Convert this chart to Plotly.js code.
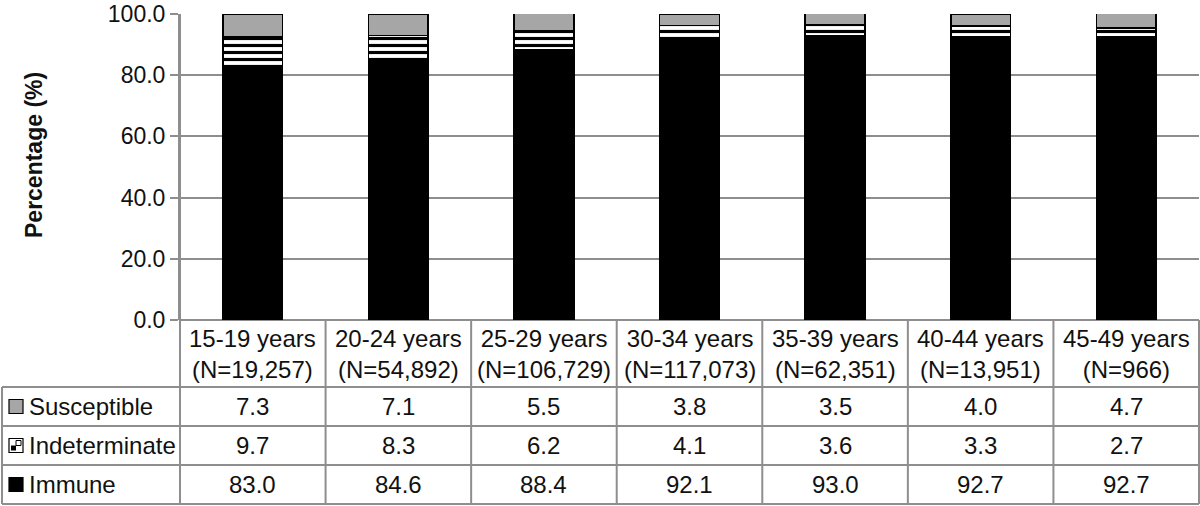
<!DOCTYPE html>
<html>
<head>
<meta charset="utf-8">
<script src="https://cdn.plot.ly/plotly-3.0.1.min.js"></script>
<style>
html,body{margin:0;padding:0;background:#fff;}
#chart{width:1200px;height:506px;}
</style>
</head>
<body>
<div id="chart"></div>
<script>
const ageGroups = ['15-19 years','20-24 years','25-29 years','30-34 years','35-39 years','40-44 years','45-49 years'];
const sampleSizes = ['19,257','54,892','106,729','117,073','62,351','13,951','966'];
const susceptible = [7.3,7.1,5.5,3.8,3.5,4.0,4.7];
const indeterminate = [9.7,8.3,6.2,4.1,3.6,3.3,2.7];
const immune = [83.0,84.6,88.4,92.1,93.0,92.7,92.7];
const seriesNames = ['Susceptible','Indeterminate','Immune'];
const yTicks = [0,20,40,60,80,100];

const W = 1200, H = 506;
const L = 180, R = 1199, T = 14, B = 320;
const pw = R - L, ph = B - T;
const px = v => (v - L) / pw;          // pixel x -> paper
const py = v => (B - v) / ph;          // pixel y -> paper

const FONT = 'Liberation Sans, Arial, Helvetica, sans-serif';
const GRID = '#8e8e8e';
const GRAY = '#a6a6a6';

const cats = ageGroups.map((a, i) => a + ' (N=' + sampleSizes[i] + ')');

const traces = [
  {type:'bar', name:'Immune', x:cats, y:immune,
   marker:{color:'#000000', line:{color:'#000', width:1.5}}},
  {type:'bar', name:'Indeterminate', x:cats, y:indeterminate,
   marker:{color:'#ffffff', line:{color:'#000', width:1.5},
     pattern:{shape:'-', fgcolor:'#000', bgcolor:'#fff', size:7, solidity:0.45}}},
  {type:'bar', name:'Susceptible', x:cats, y:susceptible,
   marker:{color:GRAY, line:{color:'#000', width:1.5}}}
];

const shapes = [];
const annotations = [];
const line = (x0,y0,x1,y1) => shapes.push({type:'line', xref:'paper', yref:'paper',
  x0:x0, y0:y0, x1:x1, y1:y1, line:{color:GRID, width:2}});

// row lines
const rowY = [387, 426, 465, 504];
rowY.forEach(y => line(px(2), py(y), px(R), py(y)));
// left border of legend column
line(px(2), py(387), px(2), py(504));
// axis line extension
line(0, py(T), 0, py(504));
// category boundaries
const n = ageGroups.length;
for (let i = 1; i <= n; i++) line(i / n, py(B), i / n, py(504));

const txtFont = {family:FONT, size:24, color:'#111'};

// header labels
ageGroups.forEach((a, i) => {
  annotations.push({xref:'x', yref:'paper', x:cats[i], y:py(353.5),
    xanchor:'center', yanchor:'middle',
    text: a + '<br>(N=' + sampleSizes[i] + ')', showarrow:false,
    font:txtFont, align:'center'});
});

// value rows
const rows = [susceptible, indeterminate, immune];
const rowCenters = [406.5, 445.5, 484.5];
rows.forEach((vals, r) => {
  vals.forEach((v, i) => {
    annotations.push({xref:'x', yref:'paper', x:cats[i], y:py(rowCenters[r]),
      xanchor:'center', yanchor:'middle',
      text: v.toFixed(1), showarrow:false, font:txtFont});
  });
  annotations.push({xref:'paper', yref:'paper', x:px(27), y:py(rowCenters[r]),
    xanchor:'left', yanchor:'middle', text: seriesNames[r], showarrow:false,
    font:txtFont});
});

// legend keys
const keyColors = [GRAY, '#ffffff', '#000000'];
rowCenters.forEach((c, r) => {
  shapes.push({type:'rect', xref:'paper', yref:'paper',
    x0:px(9), x1:px(23), y0:py(c + 7), y1:py(c - 7),
    fillcolor:keyColors[r], line:{color:'#000', width:1.2}});
});
// pattern hint in indeterminate key
shapes.push({type:'rect', xref:'paper', yref:'paper',
  x0:px(11), x1:px(16), y0:py(rowCenters[1] + 5), y1:py(rowCenters[1]),
  fillcolor:'#000', line:{width:0}});
shapes.push({type:'rect', xref:'paper', yref:'paper',
  x0:px(16), x1:px(21), y0:py(rowCenters[1]), y1:py(rowCenters[1] - 5),
  fillcolor:'#fff', line:{color:'#000', width:1}});

// y-axis title
annotations.push({xref:'paper', yref:'paper', x:px(34), y:py(155),
  xanchor:'center', yanchor:'middle',
  text:'<b>Percentage (%)</b>', textangle:-90, showarrow:false,
  font:{family:FONT, size:23, color:'#111'}});

const layout = {
  width:W, height:H,
  margin:{l:L, r:W - R, t:T, b:H - B, pad:0},
  paper_bgcolor:'#fff', plot_bgcolor:'#fff',
  barmode:'stack', bargap:0.59,
  showlegend:false,
  font:{family:FONT, color:'#111'},
  xaxis:{type:'category', range:[-0.5, n - 0.5], showticklabels:false,
    showgrid:false, zeroline:false, showline:false, ticks:''},
  yaxis:{range:[0,100], tickvals:yTicks, ticktext:yTicks.map(v => v.toFixed(1)),
    ticks:'outside', ticklen:8, tickwidth:2, tickcolor:GRID,
    showgrid:true, gridcolor:GRID, gridwidth:2,
    zeroline:true, zerolinecolor:GRID, zerolinewidth:2,
    showline:true, linecolor:GRID, linewidth:2,
    tickfont:{family:FONT, size:23, color:'#111'}},
  shapes:shapes,
  annotations:annotations
};

Plotly.newPlot('chart', traces, layout, {displayModeBar:false, staticPlot:true});
</script>
</body>
</html>
